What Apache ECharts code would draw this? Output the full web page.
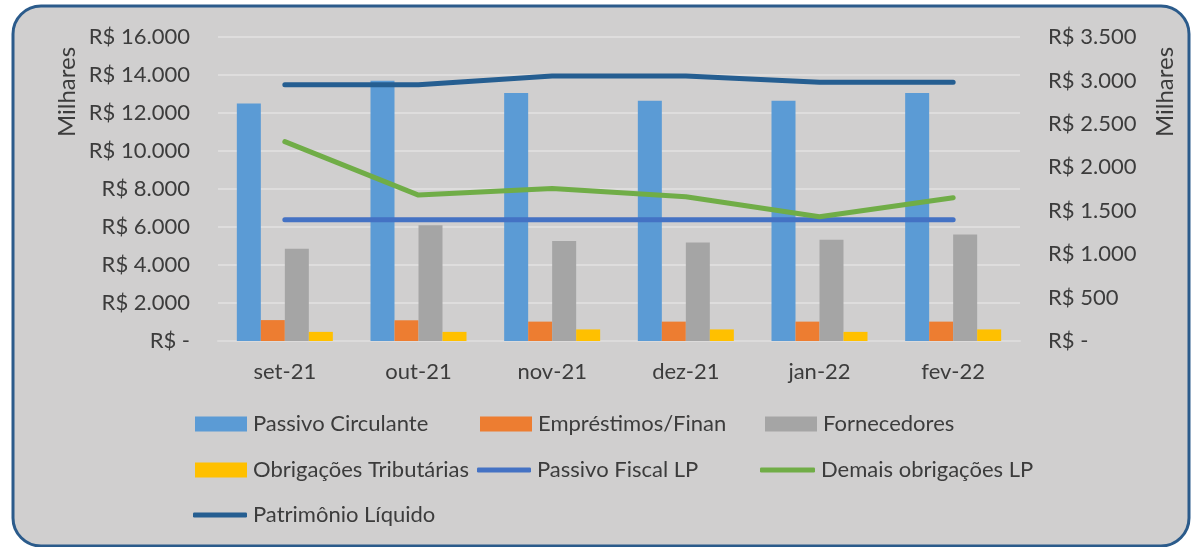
<!DOCTYPE html>
<html lang="pt">
<head>
    <meta charset="UTF-8">
    <title>Passivo x Patrimônio</title>
    <script src="https://cdn.jsdelivr.net/npm/echarts@6/dist/echarts.min.js"></script>
    <style type="text/css">
        *{
            margin: 0;
            padding: 0;
        }
        body{
            background: #ffffff;
        }
        #chart{
            width: 1191px;
            height: 547px;
        }
    </style>
</head>
<body>
    <div id="chart"></div>
</body>
<script>
    // dados
    var categories = ['set-21', 'out-21', 'nov-21', 'dez-21', 'jan-22', 'fev-22'];
    var passivoCirculante = [12500, 13700, 13050, 12650, 12650, 13050];
    var emprestimos = [1100, 1090, 1020, 1020, 1020, 1020];
    var fornecedores = [4860, 6090, 5260, 5190, 5330, 5610];
    var obrigacoesTrib = [480, 480, 610, 610, 480, 610];
    var passivoFiscalLP = [1395, 1395, 1395, 1395, 1395, 1395];
    var demaisObrigacoes = [2295, 1680, 1755, 1660, 1430, 1650];
    var patrimonio = [2950, 2950, 3050, 3050, 2980, 2980];
    var leftTicks = [0, 16000, 2000];
    var rightTicks = [0, 3500, 500];

    var txt = '#3C3C3C';
    var font = 'Lato';
    var fs = 22;

    function reais(v){
        if (v === 0) return 'R$ -';
        return 'R$ ' + String(v).replace(/\B(?=(\d{3})+(?!\d))/g, '.');
    }

    // uma legenda por item, para posicionar cada uma como no original
    function oneLegend(name, x, y, w, isLine){
        return {
            data: [name],
            left: x,
            top: y,
            padding: 0,
            icon: isLine ? 'roundRect' : 'rect',
            itemWidth: w,
            itemHeight: isLine ? 5 : 15,
            textStyle: {color: txt, fontFamily: font, fontSize: fs, padding: [0, 0, 0, 1]}
        };
    }

    var myChart = echarts.init(document.getElementById('chart'));
    var option = {
        animation: false,
        textStyle: {fontFamily: font},
        graphic: [
            {
                type: 'rect',
                z: -10,
                shape: {x: 13, y: 6, width: 1176, height: 540, r: 28},
                style: {fill: '#D0CFCF', stroke: '#2B5B8B', lineWidth: 3}
            },
            {
                type: 'text', x: 67, y: 92, rotation: Math.PI / 2,
                style: {text: 'Milhares', fill: txt, font: '24px ' + font, align: 'center', verticalAlign: 'middle'}
            },
            {
                type: 'text', x: 1165, y: 92, rotation: Math.PI / 2,
                style: {text: 'Milhares', fill: txt, font: '24px ' + font, align: 'center', verticalAlign: 'middle'}
            }
        ],
        legend: [
            oneLegend('Passivo Circulante', 195, 413, 52, false),
            oneLegend('Empréstimos/Finan', 480, 413, 52, false),
            oneLegend('Fornecedores', 765, 413, 52, false),
            oneLegend('Obrigações Tributárias', 195, 459, 52, false),
            oneLegend('Passivo Fiscal LP', 477, 459, 54, true),
            oneLegend('Demais obrigações LP', 760, 459, 55, true),
            oneLegend('Patrimônio Líquido', 193, 504, 54, true)
        ],
        grid: {left: 218, right: 171, top: 37, bottom: 206},
        xAxis: {
            type: 'category',
            data: categories,
            axisLine: {lineStyle: {color: '#DCDBDB', width: 2}},
            axisTick: {length: 6, lineStyle: {color: '#DCDBDB', width: 2}},
            axisLabel: {color: txt, fontFamily: font, fontSize: fs, margin: 20}
        },
        yAxis: [
            {
                type: 'value',
                min: leftTicks[0], max: leftTicks[1], interval: leftTicks[2],
                axisLine: {show: false},
                axisTick: {show: false},
                splitLine: {lineStyle: {color: '#DEDDDD', width: 2}},
                axisLabel: {color: txt, fontFamily: font, fontSize: fs, margin: 28, formatter: reais}
            },
            {
                type: 'value',
                min: rightTicks[0], max: rightTicks[1], interval: rightTicks[2],
                axisLine: {show: false},
                axisTick: {show: false},
                splitLine: {show: false},
                axisLabel: {color: txt, fontFamily: font, fontSize: fs, margin: 28, formatter: reais}
            }
        ],
        series: [
            {name: 'Passivo Circulante', type: 'bar', data: passivoCirculante, barWidth: 24, barGap: '0%', itemStyle: {color: '#5B9BD5'}},
            {name: 'Empréstimos/Finan', type: 'bar', data: emprestimos, barWidth: 24, barGap: '0%', itemStyle: {color: '#ED7D31'}},
            {name: 'Fornecedores', type: 'bar', data: fornecedores, barWidth: 24, barGap: '0%', itemStyle: {color: '#A5A5A5'}},
            {name: 'Obrigações Tributárias', type: 'bar', data: obrigacoesTrib, barWidth: 24, barGap: '0%', itemStyle: {color: '#FFC000'}},
            {name: 'Passivo Fiscal LP', type: 'line', yAxisIndex: 1, data: passivoFiscalLP, symbol: 'none',
                lineStyle: {color: '#4472C4', width: 5, cap: 'round'}, itemStyle: {color: '#4472C4'}},
            {name: 'Demais obrigações LP', type: 'line', yAxisIndex: 1, data: demaisObrigacoes, symbol: 'none',
                lineStyle: {color: '#70AD47', width: 5, cap: 'round'}, itemStyle: {color: '#70AD47'}},
            {name: 'Patrimônio Líquido', type: 'line', yAxisIndex: 1, data: patrimonio, symbol: 'none',
                lineStyle: {color: '#255E91', width: 5, cap: 'round'}, itemStyle: {color: '#255E91'}}
        ]
    };
    myChart.setOption(option);
</script>
</html>
